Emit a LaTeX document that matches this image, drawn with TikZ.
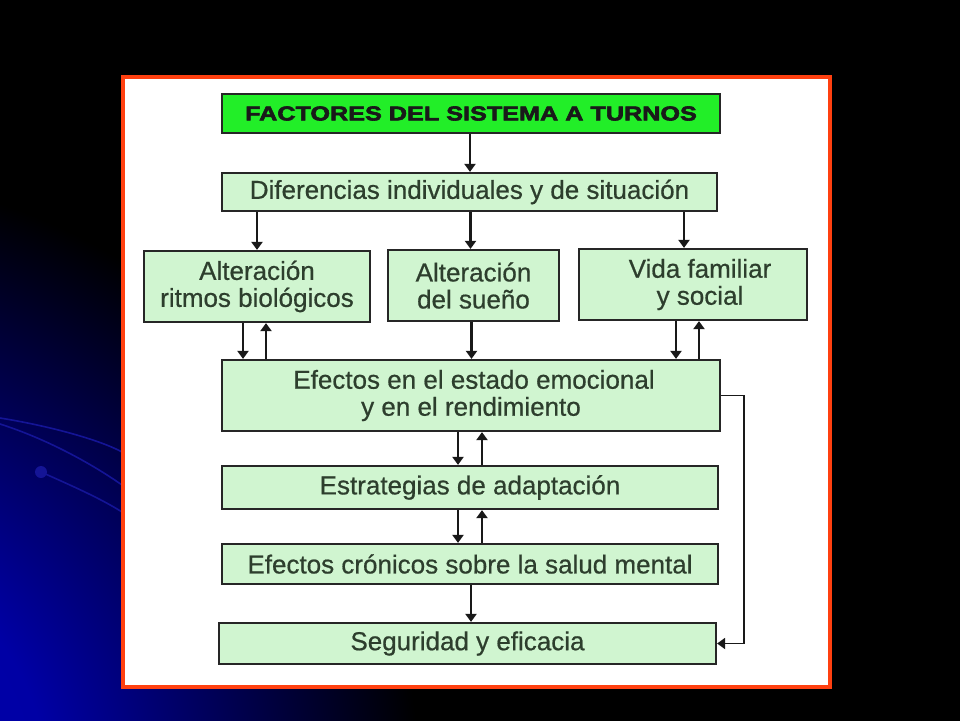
\documentclass[tikz,border=0pt]{standalone}
\usepackage{fontspec}
\setmainfont{Liberation Sans}
\newfontfamily\titlefont[FakeStretch=1.26,FakeBold=3]{Liberation Sans Bold}
\newfontfamily\boxfont[FakeBold=0.6]{Liberation Sans}
\usetikzlibrary{arrows.meta,calc}
\definecolor{bluebg}{RGB}{0,0,175}
\definecolor{bluemid}{RGB}{0,0,165}
\definecolor{arcblue}{RGB}{20,20,150}
\definecolor{panelred}{RGB}{255,64,16}
\definecolor{paleg}{RGB}{208,245,208}
\definecolor{brightg}{RGB}{34,238,40}
\definecolor{txt}{RGB}{45,62,45}
\pgfdeclareradialshading{bgshade}{\pgfpoint{0bp}{0bp}}{color(0bp)=(bluebg); color(10bp)=(bluemid); color(25bp)=(black); color(50bp)=(black)}
\begin{document}
\begin{tikzpicture}[x=1pt,y=-1pt,
  box/.style={draw=black!85,line width=2.2pt,fill=paleg,text=txt,inner sep=0pt,
    align=center,font=\boxfont\fontsize{26}{27}\selectfont},
  titlebox/.style={draw=black!85,line width=2.2pt,fill=brightg,text=black!90,inner sep=0pt,
    font=\titlefont\fontsize{20}{22}\selectfont},
  arr/.style={line width=2.2pt,draw=black!90,-{Triangle[width=11pt,length=8pt]}},
  loopline/.style={line width=1.8pt,draw=black!90,-{Triangle[width=11pt,length=8pt]}}]
\useasboundingbox (0,0) rectangle (960,720);
% background
\fill[black] (-2,-2) rectangle (962,722);
\begin{scope}
\clip (0,0) rectangle (960,720);
\shade[shading=bgshade] (-200,790) circle (620);
\draw[arcblue,line width=1.6pt] (0,418) .. controls (50,426) and (100,440) .. (122,452);
\draw[arcblue,line width=1.6pt] (0,424) .. controls (50,440) and (95,466) .. (122,485);
\draw[arcblue,line width=1.6pt] (41,472) .. controls (70,485) and (100,498) .. (122,512);
\fill[arcblue] (41,472) circle (6);
\end{scope}
% panel
\draw[panelred,line width=4.5pt,fill=white] (123,77) rectangle (830,687);
% nodes
\node[titlebox,minimum width=498pt,minimum height=39pt] (title) at (471,113.5) {FACTORES DEL SISTEMA A TURNOS};
\node[box,minimum width=495pt,minimum height=38pt] (dif) at (469.5,192) {\raisebox{-2pt}{Diferencias individuales y de situación}};
\node[box,minimum width=226pt,minimum height=71pt] (ritmos) at (257,286.5) {Alteración\\ritmos biológicos};
\node[box,minimum width=171pt,minimum height=71pt] (sueno) at (473.5,285.5) {Alteración\\del sueño};
\node[box,minimum width=228pt,minimum height=71pt] (vida) at (693,284.5) {\hspace*{14pt}Vida familiar\\\hspace*{14pt}y social};
\node[box,minimum width=498pt,minimum height=71pt] (efectos) at (471,395.5) {\hspace*{6pt}Efectos en el estado emocional\\y en el rendimiento};
\node[box,minimum width=496pt,minimum height=43pt] (estr) at (470,487.5) {\raisebox{-2pt}{Estrategias de adaptación}};
\node[box,minimum width=496pt,minimum height=40pt] (cron) at (470,564) {\raisebox{-2pt}{Efectos crónicos sobre la salud mental}};
\node[box,minimum width=497pt,minimum height=41pt] (seg) at (467.5,643.5) {\raisebox{-2pt}{Seguridad y eficacia}};
% connectors
\draw[arr] ([xshift=-1pt]title.south) -- ([xshift=-1pt]title.south |- dif.north);
\draw[arr] (dif.south -| ritmos.north) -- (ritmos.north);
\draw[arr] ([xshift=-3pt]dif.south -| sueno.north) -- ([xshift=-3pt]sueno.north);
\draw[arr] ([xshift=-9pt]dif.south -| vida.north) -- ([xshift=-9pt]vida.north);
\draw[arr] ([xshift=-14pt]ritmos.south) -- ([xshift=-14pt]ritmos.south |- efectos.north);
\draw[arr] ([xshift=9pt]ritmos.south |- efectos.north) -- ([xshift=9pt]ritmos.south);
\draw[arr] ([xshift=-2pt]sueno.south) -- ([xshift=-2pt]sueno.south |- efectos.north);
\draw[arr] ([xshift=-17pt]vida.south) -- ([xshift=-17pt]vida.south |- efectos.north);
\draw[arr] ([xshift=6pt]vida.south |- efectos.north) -- ([xshift=6pt]vida.south);
\draw[arr] ([xshift=-13pt]efectos.south) -- ([xshift=-13pt]efectos.south |- estr.north);
\draw[arr] ([xshift=11pt]efectos.south |- estr.north) -- ([xshift=11pt]efectos.south);
\draw[arr] ([xshift=-13pt]efectos.south |- estr.south) -- ([xshift=-13pt]efectos.south |- cron.north);
\draw[arr] ([xshift=11pt]efectos.south |- cron.north) -- ([xshift=11pt]efectos.south |- estr.south);
\draw[arr] ([xshift=1pt]cron.south) -- ([xshift=1pt]cron.south |- seg.north);
\coordinate (loopc) at ($(efectos.east)+(23,0)$);
\draw[loopline] (efectos.east) -- (loopc) |- (seg.east);
\end{tikzpicture}
\end{document}
